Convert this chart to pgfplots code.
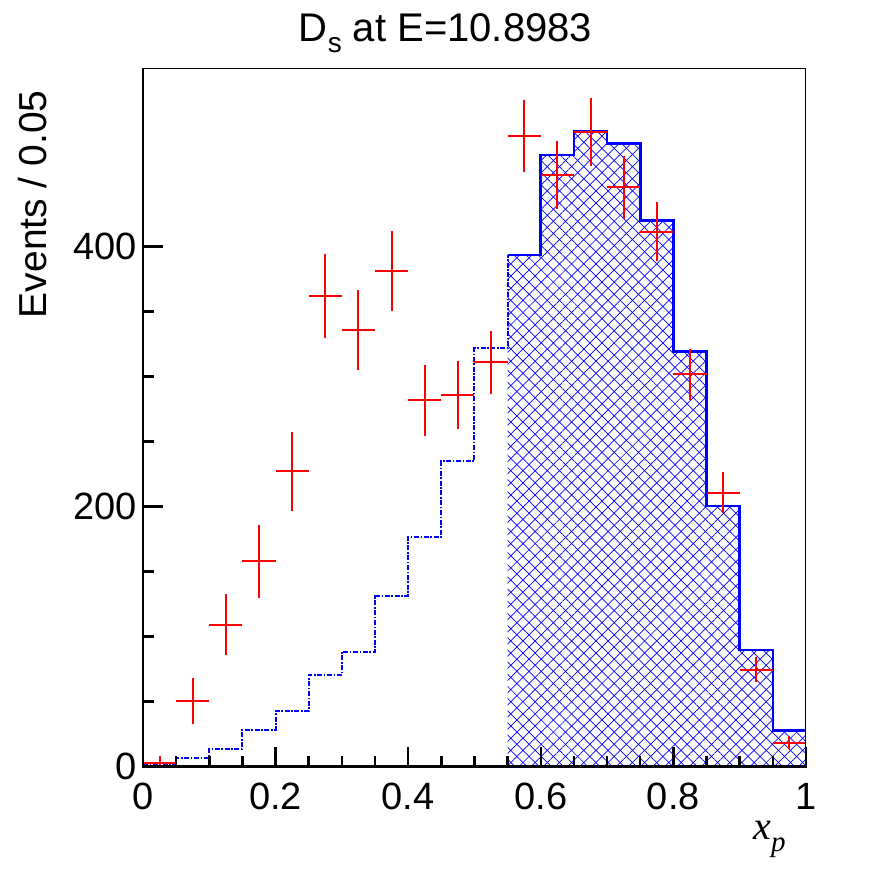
\documentclass[border=0pt]{standalone}
\usepackage{pgfplots}
\pgfplotsset{compat=1.18}
\usepackage{fontspec}
\setmainfont{Liberation Sans}
\newfontfamily\serif{Liberation Serif}
\usetikzlibrary{patterns.meta}
\begin{document}
\begin{tikzpicture}
\useasboundingbox (0,0) rectangle (448pt,436pt);
\begin{axis}[
  name=ax,
  at={(71.5pt,52.65pt)}, anchor=south west,
  scale only axis, width=331.5pt, height=348.85pt,
  xmin=0, xmax=1, ymin=0, ymax=536.5,
  xtick={0,0.2,0.4,0.6,0.8,1}, minor x tick num=3,
  ytick={0,200,400}, minor y tick num=3,
  tick pos=left, tick align=inside,
  major tick length=10pt, minor tick length=5.5pt,
  every tick/.style={black, line width=1.25pt},
  axis line style={black, line width=0.5pt},
  axis on top,
  /pgf/number format/assume math mode=true,
  ticklabel style={font=\fontsize{19pt}{21pt}\selectfont, inner sep=0pt},
  xticklabel style={anchor=north, yshift=-8pt},
  yticklabel style={anchor=east, xshift=-3pt},
  scaled ticks=false,
]
% hatched region (x >= 0.55)
\addplot[draw=none, const plot, pattern={Lines[angle=45,distance=4.3pt,line width=0.35pt]}, pattern color=blue]
  coordinates {(0.55,393.6) (0.6,470.5) (0.65,488.5) (0.7,479.2) (0.75,419.8) (0.8,319.3) (0.85,200.5) (0.9,89.8) (0.95,27.7) (1.0,27.7)} \closedcycle;
\addplot[draw=none, const plot, pattern={Lines[angle=-45,distance=4.3pt,line width=0.35pt]}, pattern color=blue]
  coordinates {(0.55,393.6) (0.6,470.5) (0.65,488.5) (0.7,479.2) (0.75,419.8) (0.8,319.3) (0.85,200.5) (0.9,89.8) (0.95,27.7) (1.0,27.7)} \closedcycle;
% dashed part of MC histogram
\addplot[blue, line width=1pt, const plot, dash pattern=on 2.5pt off 0.8pt on 0.8pt off 0.8pt]
  coordinates {(0,1) (0.05,7) (0.1,13.6) (0.15,28.2) (0.2,42.8) (0.25,70.5) (0.3,88.2) (0.35,131.6) (0.4,177) (0.45,235) (0.5,321.7) (0.55,393.6)};
% solid part
\addplot[blue, line width=1.3pt, const plot]
  coordinates {(0.55,393.6) (0.6,470.5) (0.65,488.5) (0.7,479.2) (0.75,419.8) (0.8,319.3) (0.85,200.5) (0.9,89.8) (0.95,27.7) (1.0,27.7)};
% data with error bars
\addplot[red, draw=none, mark=none,
  error bars/.cd, x dir=both, x fixed=0.025, y dir=both, y explicit,
  error mark=none, error bar style={red, line width=1pt}]
  coordinates {
  (0.025,3) +- (0,5)
  (0.075,50.5) +- (0,18)
  (0.125,109) +- (0,23.5)
  (0.175,158) +- (0,28)
  (0.225,227) +- (0,30.6)
  (0.275,362) +- (0,32)
  (0.325,336) +- (0,30.6)
  (0.375,381) +- (0,30.6)
  (0.425,281.6) +- (0,27.5)
  (0.475,286) +- (0,26)
  (0.525,311) +- (0,24.4)
  (0.575,485) +- (0,28)
  (0.625,455) +- (0,26)
  (0.675,488) +- (0,26)
  (0.725,445.4) +- (0,24)
  (0.775,411.5) +- (0,22.7)
  (0.825,301.8) +- (0,19.5)
  (0.875,210.8) +- (0,15.8)
  (0.925,74.6) +- (0,9.6)
  (0.975,18.5) +- (0,5.1)
  };
\end{axis}
\draw[line width=1.4pt, line cap=rect] (ax.north west) -- (ax.south west) -- (ax.south east);
\node[anchor=base, font=\fontsize{20pt}{22pt}\selectfont] at (222.75pt,415.2pt)
  {D\raisebox{-0.28em}{\fontsize{14pt}{15pt}\selectfont s} at E=10.8983};
\node[rotate=90, anchor=base east, inner sep=0pt, font=\fontsize{19.5pt}{22pt}\selectfont] at (23.5pt,391pt) {Events / 0.05};
\node[anchor=base west, inner sep=0pt] at (376.5pt,16pt)
  {\serif\itshape\fontsize{20pt}{22pt}\selectfont x\raisebox{-0.3em}{\fontsize{14.5pt}{16pt}\selectfont p}};
\end{tikzpicture}
\end{document}
